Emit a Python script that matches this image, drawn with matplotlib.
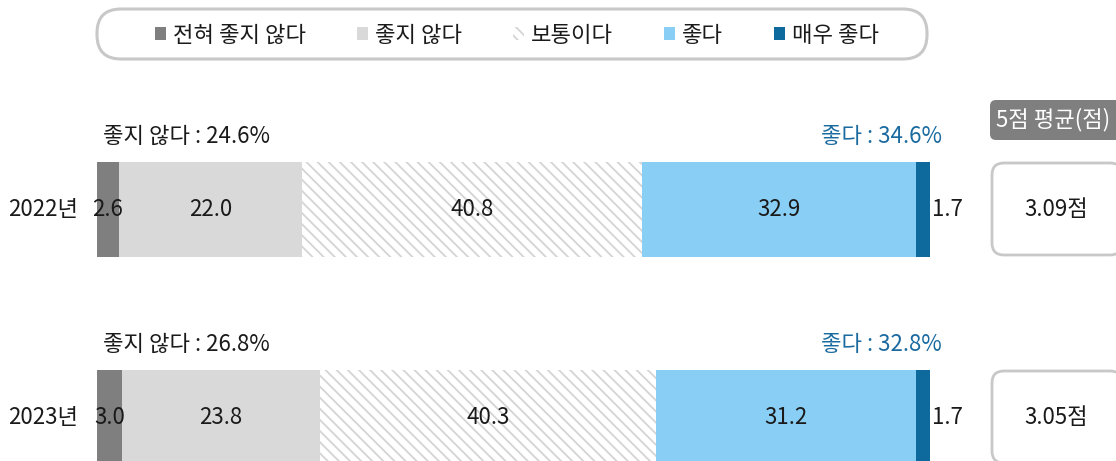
import matplotlib
matplotlib.use("Agg")
import matplotlib.pyplot as plt
from matplotlib.patches import FancyBboxPatch, Patch

plt.rcParams['font.family'] = ['Noto Sans CJK KR', 'DejaVu Sans']
plt.rcParams['hatch.linewidth'] = 1.3

# ---- data ----
years = ["2022년", "2023년"]
categories = ["전혀 좋지 않다", "좋지 않다", "보통이다", "좋다", "매우 좋다"]
values_2022 = [2.6, 22.0, 40.8, 32.9, 1.7]
values_2023 = [3.0, 23.8, 40.3, 31.2, 1.7]
negative_sum = [24.6, 26.8]
positive_sum = [34.6, 32.8]
average_score = [3.09, 3.05]
avg_header = "5점 평균(점)"

colors = ["#7f7f7f", "#d9d9d9", "#ffffff", "#89cff5", "#0e6a9d"]
hatches = [None, None, "\\" * 3, None, None]
hatch_color = "#d4d4d4"
FS = 16

W, H = 1116, 461
fig = plt.figure(figsize=(W / 100, H / 100), dpi=100)

# main bar axes (pixel-based vertical, percent horizontal)
x0, x1 = 97, 930
ax = fig.add_axes([x0 / W, 0, (x1 - x0) / W, 1])
ax.set_xlim(0, 100)
ax.set_ylim(H, 0)
ax.axis("off")

y_centers = [209.5, 417.5]
bar_h = 95
rows = [values_2022, values_2023]

for yi, vals in enumerate(rows):
    left = 0
    for ci, v in enumerate(vals):
        ax.barh(y_centers[yi], v, left=left, height=bar_h, color=colors[ci],
                edgecolor=hatch_color if hatches[ci] else colors[ci],
                hatch=hatches[ci], linewidth=0)
        if ci < len(vals) - 1:
            ax.text(left + v / 2, y_centers[yi], f"{v:.1f}", ha="center", va="center",
                    fontsize=FS, color="#1a1a1a")
        else:
            ax.annotate(f"{v:.1f}", xy=(left + v, y_centers[yi]), xytext=(2, 0),
                        textcoords="offset pixels", ha="left", va="center",
                        fontsize=FS, color="#1a1a1a")
        left += v
    # year label
    ax.annotate(years[yi], xy=(0, y_centers[yi]), xytext=(-19, 0),
                textcoords="offset pixels", ha="right", va="center",
                fontsize=FS, color="#1a1a1a")
    # summary labels
    ax.annotate(f"좋지 않다 : {negative_sum[yi]:.1f}%", xy=(0, y_centers[yi] - bar_h / 2),
                xytext=(6, 26), textcoords="offset pixels", ha="left", va="center",
                fontsize=FS, color="#1a1a1a")
    ax.annotate(f"좋다 : {positive_sum[yi]:.1f}%", xy=(100, y_centers[yi] - bar_h / 2),
                xytext=(12, 26), textcoords="offset pixels", ha="right", va="center",
                fontsize=FS, color="#1a6aa0")

# overlay axes in pixel coordinates
ov = fig.add_axes([0, 0, 1, 1], zorder=-1)
ov.set_xlim(0, W)
ov.set_ylim(H, 0)
ov.axis("off")

# legend pill
ov.add_patch(FancyBboxPatch((97, 9), 830, 50, boxstyle="round,pad=0,rounding_size=24",
                            facecolor="white", edgecolor="#c8c8c8", linewidth=2.2))
handles = [Patch(facecolor=colors[i], edgecolor=hatch_color if hatches[i] else colors[i],
                 hatch=hatches[i], linewidth=0) for i in range(len(categories))]
fig.legend(handles, categories, loc="center", bbox_to_anchor=(517 / W, 1 - 35 / H),
           ncol=5, frameon=False, fontsize=FS, handlelength=0.5, handleheight=0.5,
           handletextpad=0.3, columnspacing=2.3, labelcolor="#1a1a1a")

# average header
ov.add_patch(FancyBboxPatch((990, 100), 132, 40, boxstyle="round,pad=0,rounding_size=6",
                            facecolor="#7f7f7f", edgecolor="none"))
ov.text(1053, 120, avg_header, ha="center", va="center", fontsize=FS, color="white")

# average value boxes
for yi in range(len(years)):
    top = y_centers[yi] - bar_h / 2 + 1
    ov.add_patch(FancyBboxPatch((992, top), 130, 92, boxstyle="round,pad=0,rounding_size=12",
                                facecolor="white", edgecolor="#c8c8c8", linewidth=2))
    ov.text(1056, y_centers[yi], f"{average_score[yi]:.2f}점", ha="center", va="center",
            fontsize=FS, color="#1a1a1a")

fig.savefig("out.png", dpi=100)
